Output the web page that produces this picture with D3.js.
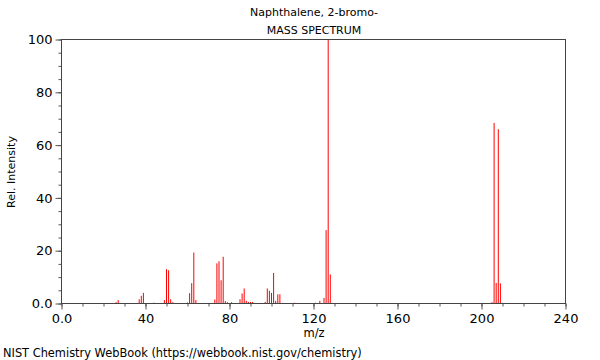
<!doctype html>
<html>
<head>
<meta charset="UTF-8">
<title>Naphthalene, 2-bromo- mass spectrum</title>
<style>
  body { margin: 0; background: #fff; }
  text { font-family: "DejaVu Sans", sans-serif; fill: #000; }
</style>
</head>
<body>
<div id="chart"></div>
<script src="https://cdn.jsdelivr.net/npm/d3@7"></script>
<script>
// peaks (m/z, relative intensity)
var mz = [26, 27, 37, 38, 39, 44, 49, 50, 51, 52, 53, 60, 61, 62, 63, 64,
          73, 74, 75, 76, 77, 78, 79, 81, 85, 86, 87, 88, 89, 90, 91,
          97, 98, 99, 100, 101, 102, 103, 104, 111, 121, 123, 125, 126, 127, 128,
          205, 206, 207, 208, 209];
var intensity = [0.5, 1.3, 1.6, 2.9, 4.0, 0.3, 1.3, 13.0, 12.6, 1.6, 0.5, 0.4, 3.9, 7.7, 19.3, 1.3,
                 1.5, 15.2, 16.0, 8.8, 17.7, 0.9, 0.5, 0.5, 1.6, 3.8, 5.7, 1.0, 0.6, 0.6, 0.6,
                 0.6, 5.7, 4.8, 4.0, 11.6, 1.0, 3.5, 3.5, 0.3, 0.3, 1.0, 2.1, 27.8, 100, 11.0,
                 0.5, 68.4, 7.8, 66.0, 7.6];
var xTicks = [0, 40, 80, 120, 160, 200, 240];
var yTicks = [0, 20, 40, 60, 80, 100];

// NIST style: zero written as 0.0, everything else as integer
function fmt(d) { return d === 0 ? "0.0" : d; }

function draw() {
  var margin = {top: 39.5, right: 34.5, bottom: 56.5, left: 61.5},
      W = 600, H = 360,
      width = W - margin.left - margin.right,
      height = H - margin.top - margin.bottom;

  var svg = d3.select("#chart").append("svg")
      .attr("width", W).attr("height", H);

  var g = svg.append("g")
      .attr("transform", "translate(" + margin.left + "," + margin.top + ")");

  var x = d3.scaleLinear().domain([0, 240]).range([0, width]);
  var y = d3.scaleLinear().domain([0, 100]).range([height, 0]);

  // minor ticks
  g.append("g").attr("transform", "translate(0," + height + ")")
    .call(d3.axisBottom(x).tickValues(d3.range(0, 241, 10)).tickSize(3).tickFormat(""))
    .call(function(a) { a.select(".domain").remove(); a.selectAll("line").attr("stroke", "#555"); });
  g.append("g")
    .call(d3.axisLeft(y).tickValues(d3.range(0, 101, 5)).tickSize(3).tickFormat(""))
    .call(function(a) { a.select(".domain").remove(); a.selectAll("line").attr("stroke", "#555"); });

  // major ticks + labels
  g.append("g").attr("transform", "translate(0," + height + ")")
    .call(d3.axisBottom(x).tickValues(xTicks).tickSize(6).tickPadding(4).tickFormat(fmt))
    .call(function(a) {
      a.select(".domain").remove();
      a.selectAll("line").attr("stroke", "#555");
      a.selectAll("text").style("font-size", "13px").style("font-family", "DejaVu Sans");
    });
  g.append("g")
    .call(d3.axisLeft(y).tickValues(yTicks).tickSize(6).tickPadding(3).tickFormat(fmt))
    .call(function(a) {
      a.select(".domain").remove();
      a.selectAll("line").attr("stroke", "#555");
      a.selectAll("text").style("font-size", "13px").style("font-family", "DejaVu Sans");
    });

  // peaks
  g.selectAll("line.peak")
    .data(mz)
    .join("line")
      .attr("class", "peak")
      .attr("x1", function(d) { return x(d); })
      .attr("x2", function(d) { return x(d); })
      .attr("y1", y(0))
      .attr("y2", function(d, i) { return y(intensity[i]); })
      .attr("stroke", "#ff0000")
      .attr("stroke-width", 1);

  // frame
  g.append("rect")
    .attr("width", width).attr("height", height)
    .attr("fill", "none").attr("stroke", "#444").attr("stroke-width", 1);

  // titles
  svg.append("text").attr("x", 314).attr("y", 16).attr("text-anchor", "middle")
    .style("font-size", "11px").text("Naphthalene, 2-bromo-");
  svg.append("text").attr("x", 314).attr("y", 34).attr("text-anchor", "middle")
    .style("font-size", "11px").text("MASS SPECTRUM");
  svg.append("text").attr("x", 314).attr("y", 337).attr("text-anchor", "middle")
    .style("font-size", "11.5px").text("m/z");
  svg.append("text").attr("transform", "translate(15,172) rotate(-90)").attr("text-anchor", "middle")
    .style("font-size", "11px").text("Rel. Intensity");
  svg.append("text").attr("x", 3).attr("y", 357)
    .style("font-size", "11.4px").text("NIST Chemistry WebBook (https://webbook.nist.gov/chemistry)");
}
draw();
</script>
</body>
</html>
